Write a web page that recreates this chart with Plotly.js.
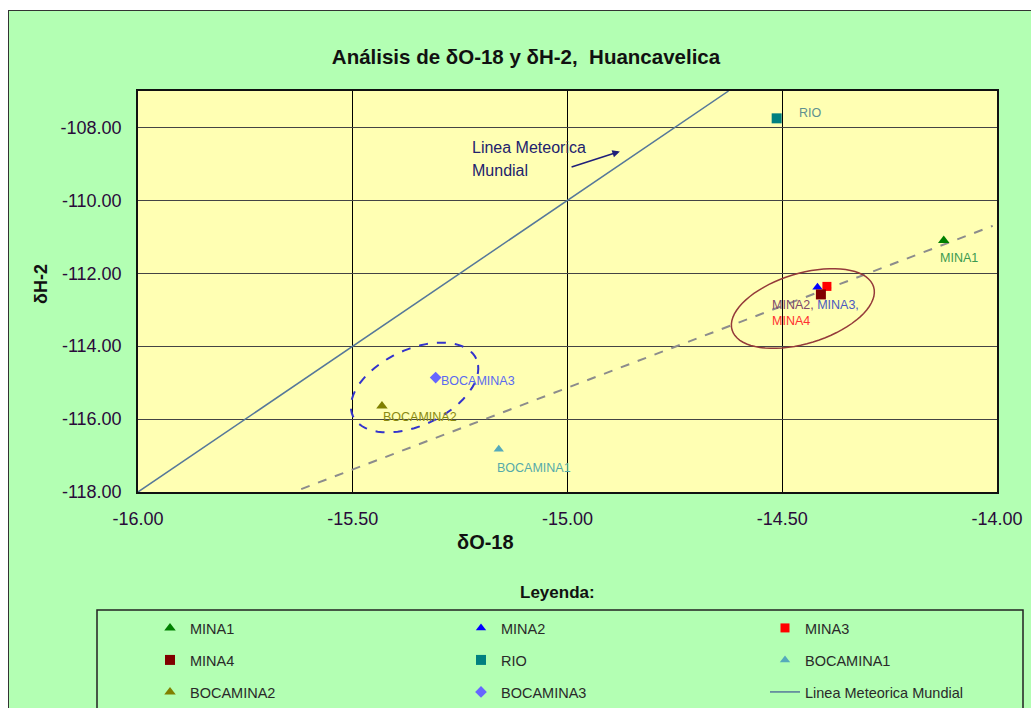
<!DOCTYPE html>
<html>
<head>
<meta charset="utf-8">
<script src="https://cdn.plot.ly/plotly-3.0.1.min.js"></script>
<style>
  html, body { margin: 0; padding: 0; background: #ffffff; overflow: hidden; width: 1031px; height: 708px; }
  #chart { position: absolute; left: 8px; top: 10px; width: 1040px; height: 700px;
           border-top: 1px solid #333; border-left: 1px solid #333; background: #B3FFB3; }
</style>
</head>
<body>
<div id="chart"></div>
<script>
// ---- data ----
const sampleNames = ['MINA1', 'MINA2', 'MINA3', 'MINA4', 'RIO', 'BOCAMINA1', 'BOCAMINA2', 'BOCAMINA3'];
const deltaO18 = [-14.124, -14.418, -14.396, -14.410, -14.513, -15.160, -15.432, -15.307];
const deltaH2  = [-111.10, -112.38, -112.36, -112.58, -107.75, -116.83, -115.64, -114.86];

// Global Meteoric Water Line (dH = 8 dO + 10), as drawn
const gmwlName = 'Linea Meteorica Mundial';
const gmwlO18 = [-16.0, -14.625];
const gmwlH2  = [-118.0, -107.0];
// local (dashed) line, as drawn
const localO18 = [-15.62, -14.01];
const localH2  = [-117.92, -110.70];

const xTickVals = [-16.0, -15.5, -15.0, -14.5, -14.0];
const xTickText = ['-16.00', '-15.50', '-15.00', '-14.50', '-14.00'];
const yTickVals = [-118, -116, -114, -112, -110, -108];
const yTickText = ['-118.00', '-116.00', '-114.00', '-112.00', '-110.00', '-108.00'];

// ---- styles ----
const symbols = ['triangle-up', 'triangle-up', 'square', 'square', 'square', 'triangle-up', 'triangle-up', 'diamond'];
const colors  = ['#008000', '#0000FF', '#FF0000', '#800000', '#008080', '#55AABB', '#808000', '#6666FF'];
const sizes   = [10, 9, 9, 10, 10, 9, 10, 9];

const FONT = 'Liberation Sans, Arial, sans-serif';
const L = 129, T = 80, PW = 859, PH = 401, W = 1040, H = 700;

// legend grid (page px of symbol centres -> div px)
const legCols = [170, 481, 785];
const legRows = [628, 660, 692];
const legendIds = ['legend', 'legend2', 'legend3', 'legend4', 'legend5', 'legend6', 'legend7', 'legend8', 'legend9'];
function legendBox(k) {
  const cx = legCols[k % 3] - 9, cy = legRows[Math.floor(k / 3)] - 11;
  return {
    orientation: 'h', x: (cx - 20 - L) / PW, xanchor: 'left',
    y: 1 - (cy - T) / PH, yanchor: 'middle',
    bgcolor: 'rgba(0,0,0,0)', borderwidth: 0,
    font: { family: FONT, size: 14.5, color: '#2A2A2A' }
  };
}

const traces = [];
traces.push({
  type: 'scatter', mode: 'lines', name: gmwlName,
  x: gmwlO18, y: gmwlH2,
  line: { color: '#56789A', width: 1.5 },
  legend: legendIds[8], hoverinfo: 'skip'
});
traces.push({
  type: 'scatter', mode: 'lines', name: 'local',
  x: localO18, y: localH2,
  line: { color: '#8C8C8C', width: 2, dash: 'dash' },
  showlegend: false, hoverinfo: 'skip'
});
sampleNames.forEach((n, i) => {
  traces.push({
    type: 'scatter', mode: 'markers', name: n,
    x: [deltaO18[i]], y: [deltaH2[i]],
    marker: { symbol: symbols[i], color: colors[i], size: sizes[i], line: { width: 0 } },
    legend: legendIds[i],
    hoverinfo: 'name+x+y'
  });
});

// ---- geometry helpers for ellipse decorations ----
const xs = PW / (xTickVals[4] - xTickVals[0]);
const ys = PH / (gmwlH2[1] - gmwlH2[0]);
function ellipsePath(cx, cy, a, b, deg) {
  const th = deg * Math.PI / 180;
  let p = '';
  for (let k = 0; k <= 72; k++) {
    const t = 2 * Math.PI * k / 72;
    const dx = a * Math.cos(t) * Math.cos(th) - b * Math.sin(t) * Math.sin(th);
    const dy = a * Math.cos(t) * Math.sin(th) + b * Math.sin(t) * Math.cos(th);
    p += (k === 0 ? 'M' : 'L') + (cx + dx / xs).toFixed(5) + ',' + (cy + dy / ys).toFixed(5);
  }
  return p + 'Z';
}

// label annotations attached to points
const labelFont = (c) => ({ family: FONT, size: 12.5, color: c });
const annotations = [
  { x: deltaO18[4], y: deltaH2[4], text: 'RIO', xshift: 34, yshift: 5, showarrow: false, font: labelFont('#5E9090') },
  { x: deltaO18[0], y: deltaH2[0], text: 'MINA1', xshift: 15, yshift: -18, showarrow: false, font: labelFont('#3A9A50') },
  { x: deltaO18[3], y: deltaH2[3], xanchor: 'left', yanchor: 'top', align: 'left', xshift: -51, yshift: -2, showarrow: false,
    text: '<span style="color:#804A6A">MINA2,</span> <span style="color:#4A5AC0">MINA3,</span><br><span style="color:#FF3030">MINA4</span>',
    font: labelFont('#804A6A') },
  { x: deltaO18[7], y: deltaH2[7], text: 'BOCAMINA3', xanchor: 'left', xshift: 3, yshift: -3, showarrow: false, font: labelFont('#5A6AF0') },
  { x: deltaO18[6], y: deltaH2[6], text: 'BOCAMINA2', xanchor: 'left', xshift: -1, yshift: -11, showarrow: false, font: labelFont('#8A8A10') },
  { x: deltaO18[5], y: deltaH2[5], text: 'BOCAMINA1', xanchor: 'left', xshift: -4, yshift: -19, showarrow: false, font: labelFont('#55AAAA') },
  // meteoric line label + arrow
  { x: -15.227, y: -108.562, text: 'Linea Meteorica', xanchor: 'left', showarrow: false, font: { family: FONT, size: 16, color: '#22226E' } },
  { x: -15.227, y: -109.193, text: 'Mundial', xanchor: 'left', showarrow: false, font: { family: FONT, size: 16, color: '#22226E' } },
  { x: -14.878, y: -108.658, ax: -14.994, ay: -109.096, axref: 'x', ayref: 'y', text: '', showarrow: true,
    arrowhead: 2, arrowsize: 1, arrowwidth: 1.5, arrowcolor: '#1F1F7A' },
  // axis titles
  { xref: 'paper', yref: 'paper', x: (476 - L) / PW, y: 1 - (531 - T) / PH, xanchor: 'center', yanchor: 'middle',
    text: '<b>δO-18</b>', showarrow: false, font: { family: FONT, size: 20, color: '#111' } },
  { xref: 'paper', yref: 'paper', x: (32 - L) / PW, y: 1 - (273 - T) / PH, xanchor: 'center', yanchor: 'middle',
    text: '<b>δH-2</b>', textangle: -90, showarrow: false, font: { family: FONT, size: 18, color: '#111' } },
  // legend header
  { xref: 'paper', yref: 'paper', x: (548 - L) / PW, y: 1 - (581 - T) / PH, xanchor: 'center', yanchor: 'middle',
    text: '<b>Leyenda:</b>', showarrow: false, font: { family: FONT, size: 17, color: '#111' } }
];

const shapes = [
  { type: 'path', xref: 'x', yref: 'y', path: ellipsePath(-14.452, -112.966, 74, 35, 17),
    line: { color: '#943A3A', width: 1.5 }, layer: 'above' },
  { type: 'path', xref: 'x', yref: 'y', path: ellipsePath(-15.356, -115.133, 68, 38, 25),
    line: { color: '#3333CC', width: 2, dash: 'dash' }, layer: 'above' },
  // legend frame
  { type: 'rect', xref: 'paper', yref: 'paper', x0: (88 - L) / PW, x1: (1014 - L) / PW,
    y0: 1 - (599 - T) / PH, y1: 1 - (740 - T) / PH, line: { color: '#222', width: 1.5 }, fillcolor: 'rgba(0,0,0,0)' }
];

const layout = {
  width: W, height: H,
  margin: { l: L, r: W - L - PW, t: T, b: H - T - PH, pad: 0, autoexpand: false },
  paper_bgcolor: '#B3FFB3',
  plot_bgcolor: '#FFFFB3',
  title: { text: '<b>Análisis de δO-18 y δH-2,&nbsp; Huancavelica</b>', xref: 'container', yref: 'container',
           x: 517 / W, y: 1 - 46 / H, xanchor: 'center', yanchor: 'middle',
           font: { family: FONT, size: 20.5, color: '#111' } },
  xaxis: {
    range: [xTickVals[0], xTickVals[4]], tickmode: 'array', tickvals: xTickVals, ticktext: xTickText,
    showgrid: true, gridcolor: '#000', gridwidth: 1, zeroline: false,
    showline: true, mirror: true, linecolor: '#111', linewidth: 1.5,
    ticks: '', ticklabelstandoff: 10,
    tickfont: { family: FONT, size: 18, color: '#2A0A3A' }
  },
  yaxis: {
    range: [gmwlH2[0], gmwlH2[1]], tickmode: 'array', tickvals: yTickVals, ticktext: yTickText,
    showgrid: true, gridcolor: '#444', gridwidth: 1, zeroline: false,
    showline: true, mirror: true, linecolor: '#111', linewidth: 1.5,
    ticks: '', ticklabelstandoff: 11,
    tickfont: { family: FONT, size: 18, color: '#2A0A3A' }
  },
  showlegend: true,
  annotations: annotations,
  shapes: shapes,
  hovermode: 'closest'
};
legendIds.forEach((id, k) => { layout[id] = legendBox(k); });

Plotly.newPlot('chart', traces, layout, { displayModeBar: false });
</script>
</body>
</html>
